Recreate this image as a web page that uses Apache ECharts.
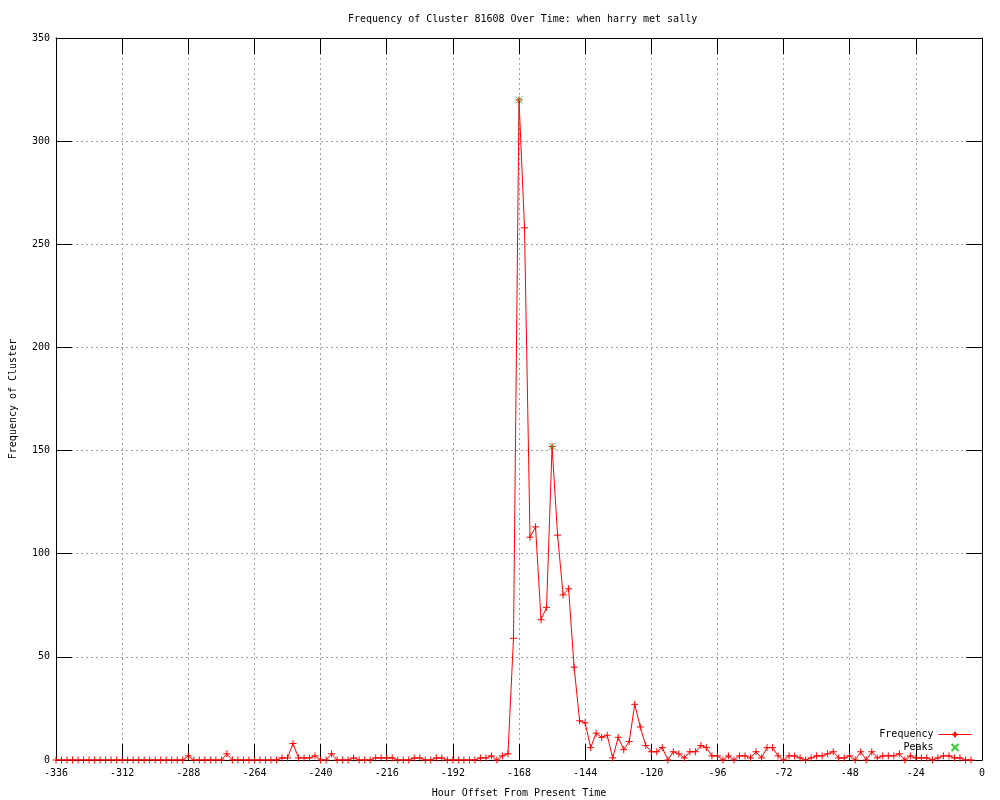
<!DOCTYPE html>
<html>
<head>
<meta charset="utf-8">
<title>Frequency of Cluster 81608</title>
<script src="https://cdn.jsdelivr.net/npm/echarts@6/dist/echarts.min.js"></script>
<style>
  html, body { margin: 0; padding: 0; background: #fff; }
  #chart { width: 1000px; height: 800px; }
</style>
</head>
<body>
<div id="chart"></div>
<script>
// hour offsets, one point every 2 hours
const hours = [
  -336, -334, -332, -330, -328, -326, -324, -322, -320, -318, -316, -314,
  -312, -310, -308, -306, -304, -302, -300, -298, -296, -294, -292, -290,
  -288, -286, -284, -282, -280, -278, -276, -274, -272, -270, -268, -266,
  -264, -262, -260, -258, -256, -254, -252, -250, -248, -246, -244, -242,
  -240, -238, -236, -234, -232, -230, -228, -226, -224, -222, -220, -218,
  -216, -214, -212, -210, -208, -206, -204, -202, -200, -198, -196, -194,
  -192, -190, -188, -186, -184, -182, -180, -178, -176, -174, -172, -170,
  -168, -166, -164, -162, -160, -158, -156, -154, -152, -150, -148, -146,
  -144, -142, -140, -138, -136, -134, -132, -130, -128, -126, -124, -122,
  -120, -118, -116, -114, -112, -110, -108, -106, -104, -102, -100, -98,
  -96, -94, -92, -90, -88, -86, -84, -82, -80, -78, -76, -74,
  -72, -70, -68, -66, -64, -62, -60, -58, -56, -54, -52, -50,
  -48, -46, -44, -42, -40, -38, -36, -34, -32, -30, -28, -26,
  -24, -22, -20, -18, -16, -14, -12, -10, -8, -6, -4
]

// frequency per hour offset
const frequency = [
  0, 0, 0, 0, 0, 0, 0, 0, 0, 0, 0, 0,
  0, 0, 0, 0, 0, 0, 0, 0, 0, 0, 0, 0,
  2, 0, 0, 0, 0, 0, 0, 3, 0, 0, 0, 0,
  0, 0, 0, 0, 0, 1, 1, 8, 1, 1, 1, 2,
  0, 0, 3, 0, 0, 0, 1, 0, 0, 0, 1, 1,
  1, 1, 0, 0, 0, 1, 1, 0, 0, 1, 1, 0,
  0, 0, 0, 0, 0, 1, 1, 2, 0, 2, 3, 59,
  320, 258, 108, 113, 68, 74, 152, 109, 80, 83, 45, 19,
  18, 6, 13, 11, 12, 1, 11, 5, 9, 27, 16, 7,
  4, 4, 6, 0, 4, 3, 1, 4, 4, 7, 6, 2,
  2, 0, 2, 0, 2, 2, 1, 4, 1, 6, 6, 2,
  0, 2, 2, 1, 0, 1, 2, 2, 3, 4, 1, 1,
  2, 0, 4, 0, 4, 1, 2, 2, 2, 3, 0, 2,
  1, 1, 1, 0, 1, 2, 2, 1, 1, 0, 0
]

// detected peaks
const peakHours = [-168, -156]
const peakValues = [320, 152]

const FONT = '"DejaVu Sans Mono", monospace'
const PLUS = 'path://M5,0L5,10M0,5L10,5'
const CROSS = 'path://M0,0L10,10M10,0L0,10'
const RED = '#ff0000'
const GREEN = '#00c000'

const chart = echarts.init(document.getElementById('chart'), null, { renderer: 'canvas' })

// 网格虚线
const dottedGrid = {
  show: true,
  lineStyle: { color: '#a0a0a0', type: [2, 3], width: 1 }
}

const axisBase = {
  type: 'value',
  axisLine: { show: true, onZero: false, lineStyle: { color: '#000', width: 1 } },
  axisTick: { show: true, inside: true, length: 16, lineStyle: { color: '#000', width: 1 } },
  axisLabel: { color: '#000', fontFamily: FONT, fontSize: 10 },
  nameTextStyle: { color: '#000', fontFamily: FONT, fontSize: 10 }
}

const option = {
  animation: false,
  backgroundColor: '#fff',
  textStyle: { fontFamily: FONT },
  title: {
    text: 'Frequency of Cluster 81608 Over Time: when harry met sally',
    left: 343,
    top: 9,
    textStyle: { color: '#000', fontFamily: FONT, fontSize: 10, fontWeight: 'normal' }
  },
  legend: {
    orient: 'vertical',
    right: 28,
    top: 728,
    align: 'right',
    padding: 0,
    itemWidth: 33,
    itemHeight: 7,
    itemGap: 0,
    lineStyle: { width: 1 },
    textStyle: { color: '#000', fontFamily: FONT, fontSize: 10, lineHeight: 13 },
    data: ['Frequency', 'Peaks']
  },
  grid: {
    left: 56,
    right: 18,
    top: 38,
    bottom: 40,
    containLabel: false,
    outerBoundsMode: 'none'
  },
  xAxis: [
    {
      ...axisBase,
      position: 'bottom',
      min: -336,
      max: 0,
      interval: 24,
      name: 'Hour Offset From Present Time',
      nameLocation: 'middle',
      nameGap: 28,
      axisLabel: { ...axisBase.axisLabel, margin: 8 },
      splitLine: dottedGrid
    },
    {
      ...axisBase,
      position: 'top',
      min: -336,
      max: 0,
      interval: 24,
      axisLabel: { show: false },
      splitLine: { show: false }
    }
  ],
  yAxis: [
    {
      ...axisBase,
      position: 'left',
      min: 0,
      max: 350,
      interval: 50,
      name: 'Frequency of Cluster',
      nameLocation: 'middle',
      nameGap: 38,
      axisLabel: { ...axisBase.axisLabel, margin: 6 },
      splitLine: dottedGrid
    },
    {
      ...axisBase,
      position: 'right',
      min: 0,
      max: 350,
      interval: 50,
      axisLabel: { show: false },
      splitLine: { show: false }
    }
  ],
  series: [
    {
      name: 'Frequency',
      type: 'line',
      data: hours.map((h, i) => [h, frequency[i]]),
      symbol: PLUS,
      symbolSize: 7,
      showAllSymbol: true,
      lineStyle: { color: RED, width: 1 },
      itemStyle: { color: RED, borderColor: RED, borderWidth: 1 },
      emphasis: { disabled: true },
      z: 2
    },
    {
      name: 'Peaks',
      type: 'scatter',
      data: peakHours.map((h, i) => [h, peakValues[i]]),
      symbol: CROSS,
      symbolSize: 7,
      itemStyle: { color: GREEN, borderColor: GREEN, borderWidth: 1 },
      emphasis: { disabled: true },
      z: 3
    }
  ]
}

chart.setOption(option)
</script>
</body>
</html>
